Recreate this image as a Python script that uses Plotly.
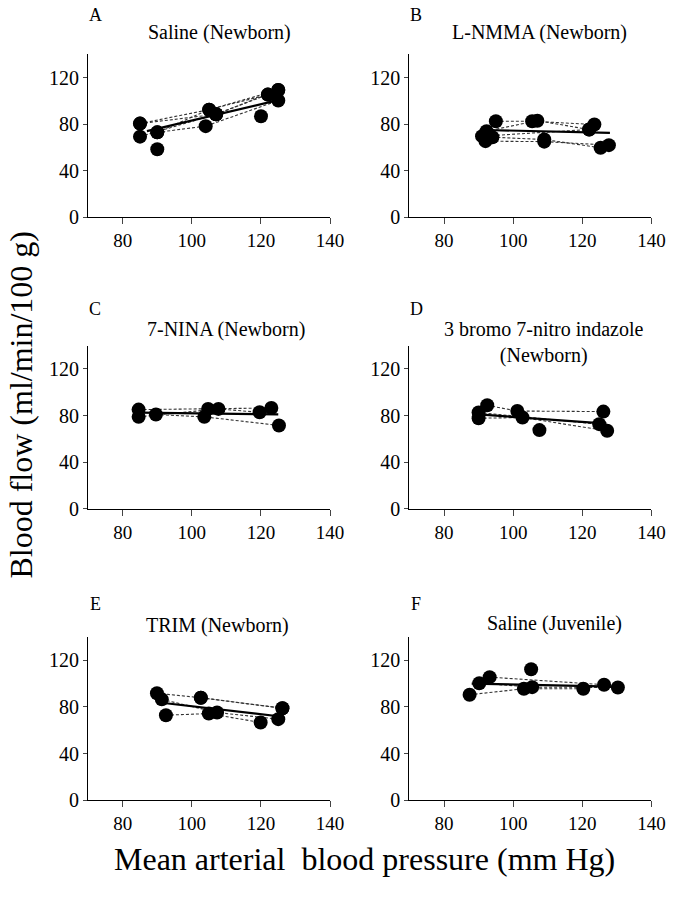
import plotly.graph_objects as go

# ---------------- data ----------------
panel_letters = ["A", "B", "C", "D", "E", "F"]
panel_titles = [
    "Saline (Newborn)",
    "L-NMMA (Newborn)",
    "7-NINA (Newborn)",
    "3 bromo 7-nitro indazole<br>(Newborn)",
    "TRIM (Newborn)",
    "Saline (Juvenile)",
]

x_ticks = [80, 100, 120, 140]
y_ticks = [0, 40, 80, 120]

# individual animals (dashed lines), MABP (mm Hg) and blood flow (ml/min/100 g)
a_subj_x = [[85, 105, 125], [85, 107, 122], [90, 104, 125], [90], [120], [85, 107], [90, 105, 122], [107, 125]]
a_subj_y = [[80.5, 92.5, 109.4], [69.3, 88.5, 105.4], [73, 78.3, 100.3], [58.5], [86.8], [80.5, 88.5], [73, 92.5, 105.4], [88.5, 109.4]]
a_mean_x = [87, 124]
a_mean_y = [74, 100]

b_subj_x = [[95, 105.5, 123.5], [92.3, 107, 122], [94, 109, 125.3], [91, 122], [92, 109, 127.7]]
b_subj_y = [[82.5, 82.5, 79.7], [74, 83, 75.4], [68.8, 66.8, 59.7], [69.7, 75.4], [65.4, 65, 62]]
b_mean_x = [92, 128]
b_mean_y = [75, 72.5]

c_subj_x = [[84.6, 104.7, 123], [89.6, 103.6, 125.2], [84.6, 107.7, 119.6]]
c_subj_y = [[85.1, 85.7, 86.5], [80.9, 78.9, 71.5], [78.9, 85.7, 82.8]]
c_mean_x = [85, 125]
c_mean_y = [82.5, 81]

d_subj_x = [[92.5, 101.2, 126.1], [90, 102.7, 127.2], [90, 124.9], [107.6]]
d_subj_y = [[88.8, 83.9, 83.4], [77.7, 78.3, 66.9], [82.6, 72.6], [67.5]]
d_mean_x = [90, 127]
d_mean_y = [81, 73]

e_subj_x = [[89.9, 102.6, 126.2], [91.3, 107.3, 125], [92.5, 104.9, 119.9], [102.6, 126.2]]
e_subj_y = [[91.7, 87.9, 78.9], [86.5, 75.2, 69.5], [72.9, 74.3, 66.6], [87.9, 78.9]]
e_mean_x = [90, 125]
e_mean_y = [84, 72]

f_subj_x = [[93.2, 126.3], [87.4, 103.1, 120.3], [90.2, 105.5, 130.3], [105.2]]
f_subj_y = [[105.6, 99.1], [90.5, 95.6, 95.6], [100.4, 97, 96.7], [112.4]]
f_mean_x = [88, 129]
f_mean_y = [100, 97.5]

panels = [
    (a_subj_x, a_subj_y, a_mean_x, a_mean_y),
    (b_subj_x, b_subj_y, b_mean_x, b_mean_y),
    (c_subj_x, c_subj_y, c_mean_x, c_mean_y),
    (d_subj_x, d_subj_y, d_mean_x, d_mean_y),
    (e_subj_x, e_subj_y, e_mean_x, e_mean_y),
    (f_subj_x, f_subj_y, f_mean_x, f_mean_y),
]

# ---------------- layout helpers ----------------
W, H = 685, 897
SERIF = "Liberation Serif, Times New Roman, serif"


def px(x):
    return x / W


def py(y):
    return 1 - y / H


col_px = [(90, 337), (418, 665)]
row_px = [(55, 220), (350, 515), (645, 810)]

letter_pos = [(97, 15), (425, 15), (97, 313), (425, 313), (97, 612), (425, 611)]
title_pos = [(224, 33), (551, 33), (231, 334), (555, 347), (222, 633), (566, 631)]

fig = go.Figure()
layout = dict(
    width=W, height=H,
    margin=dict(l=0, r=0, t=0, b=0),
    paper_bgcolor="white", plot_bgcolor="white",
    showlegend=False,
    font=dict(family=SERIF, color="black"),
)
annotations = []

for i, (sx, sy, mx, my) in enumerate(panels):
    col, row = i % 2, i // 2
    n = "" if i == 0 else str(i + 1)
    xref, yref = "x" + n, "y" + n
    x0, x1 = col_px[col]
    y0, y1 = row_px[row]
    layout["xaxis" + n] = dict(
        domain=[px(x0), px(x1)], anchor=yref, range=[70, 140],
        tickvals=x_ticks, ticks="outside", ticklen=6, tickwidth=1.3,
        showline=True, linecolor="black", linewidth=1.3,
        showgrid=False, zeroline=False,
        tickfont=dict(family=SERIF, size=19, color="black"),
    )
    layout["yaxis" + n] = dict(
        domain=[py(y1), py(y0)], anchor=xref, range=[0, 140],
        tickvals=y_ticks, ticks="outside", ticklen=4, tickwidth=1.3,
        showline=True, linecolor="black", linewidth=1.3,
        showgrid=False, zeroline=False,
        tickfont=dict(family=SERIF, size=20, color="black"),
    )
    # dashed individual lines
    for xs, ys in zip(sx, sy):
        if len(xs) > 1:
            fig.add_trace(go.Scatter(
                x=xs, y=ys, mode="lines", xaxis=xref, yaxis=yref,
                line=dict(color="#333333", width=1.1, dash="3px,2px"),
                hoverinfo="skip"))
    # mean regression line
    fig.add_trace(go.Scatter(
        x=mx, y=my, mode="lines", xaxis=xref, yaxis=yref,
        line=dict(color="black", width=2.2), hoverinfo="skip"))
    # points
    allx = [v for xs in sx for v in xs]
    ally = [v for ys in sy for v in ys]
    fig.add_trace(go.Scatter(
        x=allx, y=ally, mode="markers", xaxis=xref, yaxis=yref,
        marker=dict(color="black", size=14, line=dict(width=0))))

    lx, ly = letter_pos[i]
    annotations.append(dict(
        text=panel_letters[i], x=px(lx), y=py(ly), xref="paper", yref="paper",
        xanchor="center", yanchor="middle", showarrow=False,
        font=dict(family=SERIF, size=18, color="black")))
    tx, ty = title_pos[i]
    annotations.append(dict(
        text=panel_titles[i], x=px(tx), y=py(ty), xref="paper", yref="paper",
        xanchor="center", yanchor="middle", showarrow=False,
        font=dict(family=SERIF, size=20, color="black")))

annotations.append(dict(
    text="Blood flow (ml/min/100 g)", x=px(21), y=py(410), xref="paper", yref="paper",
    xanchor="center", yanchor="middle", textangle=-90, showarrow=False,
    font=dict(family=SERIF, size=32, color="black")))
annotations.append(dict(
    text="Mean arterial \u00a0blood pressure (mm Hg)", x=px(372), y=py(870),
    xref="paper", yref="paper", xanchor="center", yanchor="middle", showarrow=False,
    font=dict(family=SERIF, size=32, color="black")))

layout["annotations"] = annotations
fig.update_layout(**layout)

pin_to_viewport = (
    "document.documentElement.style.margin='0px';"
    "document.body.style.margin='0px';"
    "document.documentElement.style.overflow='hidden';"
    "document.body.style.overflow='hidden';"
    "var d=document.getElementById('{plot_id}');"
    "d.style.position='fixed';d.style.left='0px';d.style.top='0px';"
)
fig.write_html("out.html", config={"displayModeBar": False}, post_script=pin_to_viewport)
